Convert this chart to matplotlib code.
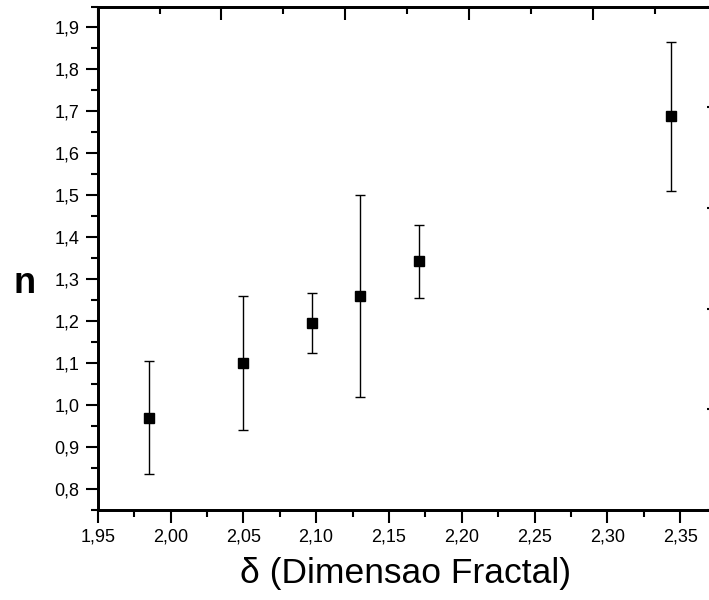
#!/usr/bin/env python3
"""n versus fractal dimension, with error bars."""
import numpy as np
import matplotlib
matplotlib.use("Agg")
import matplotlib.pyplot as plt
from matplotlib.ticker import FuncFormatter, MultipleLocator

plt.rcParams["font.family"] = ["Liberation Sans", "DejaVu Sans"]

# values
delta = [1.985, 2.050, 2.097, 2.130, 2.171, 2.344]
n_val = [0.970, 1.100, 1.196, 1.261, 1.343, 1.689]
n_low = [0.835, 0.940, 1.125, 1.020, 1.255, 1.510]
n_high = [1.106, 1.260, 1.266, 1.500, 1.429, 1.866]

x_label = "δ (Dimensao Fractal)"
y_label = "n"


def comma(fmt):
    return FuncFormatter(lambda v, _: (fmt % v).replace(".", ","))


def main() -> None:
    fig = plt.figure(figsize=(7.09, 6.0), dpi=100)
    ax = fig.add_axes([97.7 / 709, 90 / 600, 618.8 / 709, 503.5 / 600])

    y = np.array(n_val)
    err = [y - np.array(n_low), np.array(n_high) - y]
    ax.errorbar(delta, y, yerr=err, fmt="s", color="black", ms=7.2,
                elinewidth=1.0, capsize=3.6, capthick=1.0)

    ax.set_xlim(1.95, 2.375)
    ax.set_ylim(0.75, 1.95)
    ax.xaxis.set_major_locator(MultipleLocator(0.05))
    ax.xaxis.set_minor_locator(MultipleLocator(0.025))
    ax.yaxis.set_major_locator(MultipleLocator(0.1))
    ax.yaxis.set_minor_locator(MultipleLocator(0.05))
    ax.xaxis.set_major_formatter(comma("%.2f"))
    ax.yaxis.set_major_formatter(comma("%.1f"))
    ax.tick_params(which="both", direction="out", width=1.5, labelsize=13,
                   top=False, right=False)
    ax.tick_params(which="major", length=9)
    ax.tick_params(which="minor", length=5)
    ax.tick_params(axis="x", pad=4)
    ax.tick_params(axis="y", pad=4)
    for sp in ax.spines.values():
        sp.set_linewidth(1.8)

    # second layer axes (top and right), ticks only
    top = ax.twiny()
    top.set_xlim(0, 5)
    right = ax.twinx()
    right.set_ylim(0, 5)
    for a, axis in ((top, top.xaxis), (right, right.yaxis)):
        axis.set_major_locator(MultipleLocator(1))
        axis.set_minor_locator(MultipleLocator(0.5))
        a.tick_params(which="both", direction="in", width=1.5,
                      labeltop=False, labelright=False)
        a.tick_params(which="major", length=9)
        a.tick_params(which="minor", length=5)
        for sp in a.spines.values():
            sp.set_linewidth(1.8)
    right.tick_params(which="major", length=7)

    ax.set_xlabel(x_label, fontsize=25.5, va="baseline")
    ax.xaxis.set_label_coords(0.498, -0.145)
    ax.set_ylabel(y_label, fontsize=26, fontweight="bold", rotation=0,
                  ha="center", va="baseline")
    ax.yaxis.set_label_coords(-0.118, 0.430)

    fig.savefig("out.png", dpi=100)
    plt.close(fig)


if __name__ == "__main__":
    main()
